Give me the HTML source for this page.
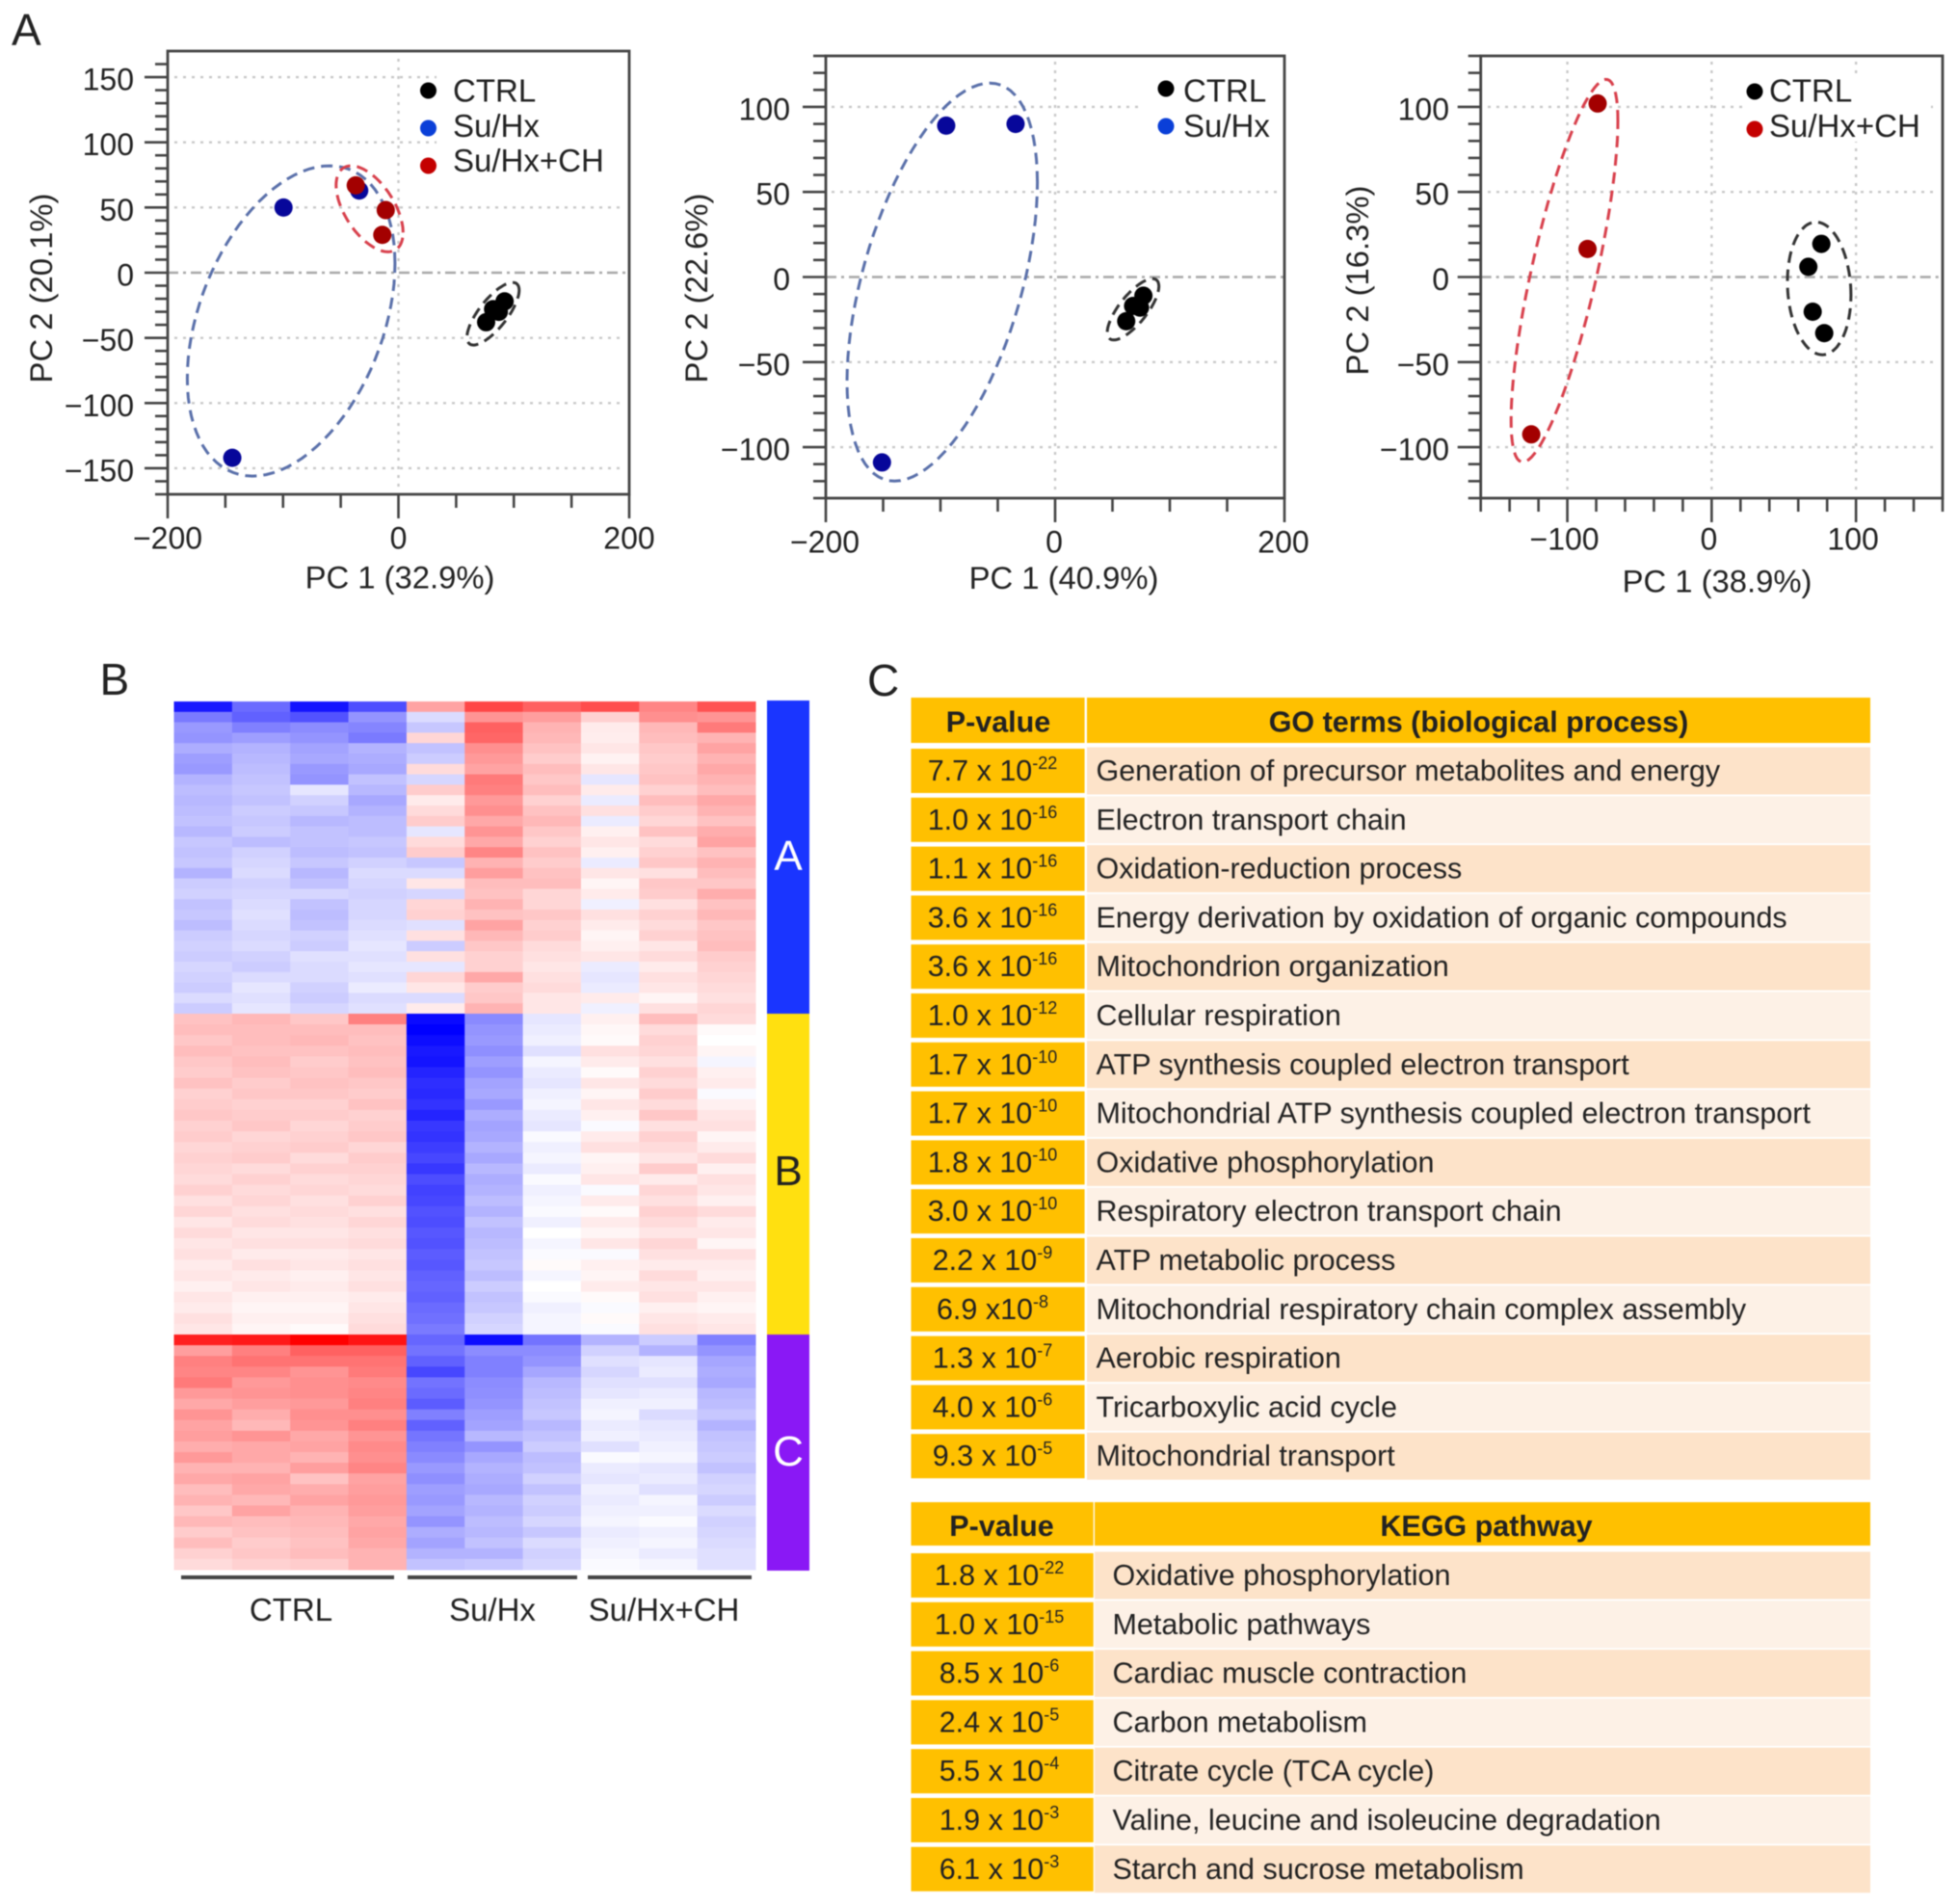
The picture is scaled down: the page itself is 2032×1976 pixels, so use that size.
<!DOCTYPE html>
<html lang="en">
<head>
<meta charset="utf-8">
<title>PCA, heatmap and enrichment tables</title>
<style>
html,body{margin:0;padding:0;background:#fff;}
svg{display:block;filter:blur(0.6px);}
text{font-family:"Liberation Sans",Arial,sans-serif;fill:#222;}
</style>
</head>
<body>
<svg id="fig" xmlns="http://www.w3.org/2000/svg" width="2032" height="1976" viewBox="0 0 2032 1976">
  <rect x="0" y="0" width="2032" height="1976" fill="#fff"/>
  <text x="12" y="47" font-size="46">A</text>
  <text x="103.5" y="721" font-size="46">B</text>
  <text x="900" y="722" font-size="46">C</text>
  <g id="pca1"></g>
  <g id="pca2"></g>
  <g id="pca3"></g>
  <g id="heat"></g>
  <rect x="796" y="727" width="44" height="325" fill="#1a35ff"/>
  <rect x="796" y="1052" width="44" height="333" fill="#ffe010"/>
  <rect x="796" y="1385" width="44" height="245" fill="#8a18f5"/>
  <text x="818" y="903" font-size="44" text-anchor="middle" style="fill:#fff">A</text>
  <text x="818" y="1230" font-size="44" text-anchor="middle" style="fill:#222">B</text>
  <text x="818" y="1521" font-size="44" text-anchor="middle" style="fill:#fff">C</text>
  <rect x="188" y="1635" width="221" height="4" fill="#444"/>
  <rect x="423" y="1635" width="176" height="4" fill="#444"/>
  <rect x="610" y="1635" width="170" height="4" fill="#444"/>
  <text x="302" y="1682" font-size="33" text-anchor="middle">CTRL</text>
  <text x="511" y="1682" font-size="33" text-anchor="middle">Su/Hx</text>
  <text x="689" y="1682" font-size="33" text-anchor="middle">Su/Hx+CH</text>
  <g id="goTable"></g>
  <g id="keggTable"></g>
</svg>
<script>
/* ---------- PCA data (data units) ---------- */
const pca1CtrlX = [76, 82, 87, 92];
const pca1CtrlY = [-38, -28, -30, -22];
const pca1SuhxX = [-99.6, -34, -144];
const pca1SuhxY = [50, 63, -142];
const pca1ChX = [-37, -11, -14];
const pca1ChY = [67, 48, 29];
const pca1EllipseCx = [82, -93, -25];
const pca1EllipseCy = [-31.5, -37, 49];
const pca1EllipseRx = [22.6, 90, 29];
const pca1EllipseRy = [24, 119, 33];
const pca1EllipseCorr = [0.75, 0.37, -0.55];
const pca1XTicks = [-200, 0, 200];
const pca1YTicks = [150, 100, 50, 0, -50, -100, -150];

const pca2CtrlX = [62, 68, 74, 77];
const pca2CtrlY = [-26, -17, -18, -11];
const pca2SuhxX = [-95, -34.5, -151];
const pca2SuhxY = [89, 90, -109];
const pca2EllipseCx = [68, -98.5];
const pca2EllipseCy = [-19, -3];
const pca2EllipseRx = [22.5, 83];
const pca2EllipseRy = [18, 117];
const pca2EllipseCorr = [0.75, 0.5];
const pca2XTicks = [-200, 0, 200];
const pca2YTicks = [100, 50, 0, -50, -100];

const pca3CtrlX = [76, 67, 70, 78];
const pca3CtrlY = [19.5, 6, -20.4, -33];
const pca3ChX = [-79, -86, -125];
const pca3ChY = [102, 16.5, -92.5];
const pca3EllipseCx = [74.5, -102];
const pca3EllipseCy = [-6.7, 3.7];
const pca3EllipseRx = [22, 37];
const pca3EllipseRy = [39, 112.5];
const pca3EllipseCorr = [-0.1, 0.78];
const pca3XTicks = [-100, 0, 100];
const pca3YTicks = [100, 50, 0, -50, -100];

/* ---------- Heatmap data: one row per gene band, ten samples, -100 blue .. 100 red ---------- */
const heatSamples = ["CTRL1", "CTRL2", "CTRL3", "CTRL4", "SuHx1", "SuHx2", "SuHx3", "CH1", "CH2", "CH3"];
const heatA = [
[-90,-58,-92,-70,36,72,62,70,48,68],
[-52,-62,-68,-42,-14,42,38,18,44,42],
[-40,-50,-45,-48,-22,62,30,8,28,52],
[-42,-38,-42,-52,16,60,28,7,26,30],
[-32,-30,-36,-30,-24,44,24,10,22,36],
[-38,-28,-34,-32,-20,40,20,5,20,30],
[-40,-26,-40,-34,14,36,26,10,22,34],
[-30,-24,-42,-24,-16,52,22,-10,24,30],
[-26,-22,-10,-28,20,50,26,8,18,26],
[-28,-24,-18,-34,8,40,18,-8,26,34],
[-26,-20,-22,-30,14,44,24,12,20,30],
[-24,-22,-28,-26,20,34,28,-8,16,24],
[-28,-20,-24,-26,-10,42,22,6,24,32],
[-22,-26,-24,-22,14,34,18,10,14,36],
[-24,-18,-26,-24,20,48,24,6,18,24],
[-22,-16,-22,-18,-22,30,20,-8,22,30],
[-30,-14,-28,-14,-14,38,24,10,12,26],
[-20,-18,-24,-16,10,26,26,4,22,22],
[-18,-16,-16,-18,-16,24,16,8,20,32],
[-24,-14,-24,-16,16,30,16,-6,12,24],
[-22,-12,-26,-16,18,24,22,12,18,28],
[-26,-14,-24,-14,-12,36,18,8,14,22],
[-20,-16,-18,-12,12,28,20,4,18,24],
[-18,-14,-20,-10,-20,22,14,6,10,26],
[-20,-18,-12,-12,12,18,12,10,14,20],
[-16,-20,-14,-10,-10,18,10,-8,8,18],
[-18,-14,-14,-12,16,34,12,-10,12,16],
[-20,-10,-18,-8,10,20,14,-8,10,14],
[-14,-12,-20,-14,-14,22,10,8,4,12],
[-20,-10,-16,-12,8,30,10,-6,12,16]
];
const heatB = [
[24,28,22,50,-96,-46,-10,6,26,14],
[26,26,26,26,-100,-42,-8,3,14,2],
[22,26,28,24,-95,-40,-6,2,18,0],
[26,24,24,26,-90,-44,-12,12,16,4],
[22,26,20,24,-92,-38,-4,8,12,-4],
[20,24,22,26,-86,-42,-8,2,18,6],
[24,20,24,22,-82,-36,-10,10,14,8],
[18,22,22,20,-84,-34,-6,4,20,-2],
[20,18,18,24,-80,-40,-4,10,14,6],
[22,20,20,18,-86,-32,-8,6,22,10],
[18,22,16,20,-78,-36,-10,-2,12,12],
[20,16,18,22,-80,-34,-2,8,18,4],
[16,18,20,16,-76,-30,-6,12,14,8],
[18,20,14,20,-72,-34,-4,4,10,14],
[16,14,18,18,-78,-28,-8,6,20,6],
[14,18,14,16,-70,-32,-2,10,8,12],
[18,14,16,14,-74,-30,-6,-2,16,10],
[12,16,12,18,-72,-26,-4,8,12,6],
[16,12,14,12,-68,-30,-2,2,18,14],
[10,14,12,16,-70,-24,-6,8,14,8],
[14,10,10,12,-66,-28,0,4,10,10],
[10,12,12,14,-68,-26,-4,10,16,4],
[12,8,8,10,-64,-24,-2,-2,12,12],
[8,12,10,12,-66,-22,2,6,8,8],
[10,8,6,10,-62,-26,-4,4,14,6],
[6,10,8,12,-60,-20,0,8,10,10],
[10,6,6,8,-62,-24,-2,2,12,6],
[8,4,4,10,-58,-22,-6,-2,6,4],
[12,6,6,12,-56,-18,-4,2,10,8],
[10,4,2,14,-52,-16,-4,-2,12,10]
];
const heatC = [
[88,90,100,92,-60,-95,-55,-30,-20,-50],
[38,50,62,62,-55,-45,-45,-18,-30,-42],
[50,55,55,55,-62,-50,-42,-12,-10,-35],
[48,48,42,52,-72,-50,-35,-16,-8,-32],
[52,40,44,46,-55,-45,-28,-12,-12,-34],
[40,42,44,48,-58,-44,-26,-10,-8,-28],
[34,38,40,50,-64,-42,-24,-6,-6,-26],
[42,32,44,44,-50,-38,-22,-4,-14,-22],
[36,28,42,50,-62,-36,-28,-8,-10,-30],
[38,42,34,42,-54,-28,-24,-6,-8,-24],
[32,34,36,46,-50,-42,-20,-12,-6,-22],
[40,34,30,44,-46,-34,-26,-2,-4,-20],
[30,30,38,48,-40,-30,-24,-8,-10,-24],
[34,36,24,36,-44,-32,-18,-10,-8,-18],
[26,34,32,38,-38,-34,-24,-6,-12,-16],
[30,28,36,40,-40,-28,-18,-8,-4,-20],
[22,36,30,38,-36,-30,-20,-6,-6,-14],
[28,26,28,34,-42,-26,-16,-4,-2,-18],
[20,24,26,36,-32,-28,-22,-8,-6,-16],
[26,20,24,34,-36,-24,-14,-6,-4,-14],
[18,22,26,30,-30,-30,-18,-4,-8,-12],
[14,18,20,30,-24,-22,-16,-2,-4,-12]
];

/* ---------- Table data ---------- */
const goMantissas = ["7.7 x 10","1.0 x 10","1.1 x 10","3.6 x 10","3.6 x 10","1.0 x 10","1.7 x 10","1.7 x 10","1.8 x 10","3.0 x 10","2.2 x 10","6.9 x10","1.3 x 10","4.0 x 10","9.3 x 10"];
const goExponents = ["-22","-16","-16","-16","-16","-12","-10","-10","-10","-10","-9","-8","-7","-6","-5"];
const goTerms = ["Generation of precursor metabolites and energy","Electron transport chain","Oxidation-reduction process","Energy derivation by oxidation of organic compounds","Mitochondrion organization","Cellular respiration","ATP synthesis coupled electron transport","Mitochondrial ATP synthesis coupled electron transport","Oxidative phosphorylation","Respiratory electron transport chain","ATP metabolic process","Mitochondrial respiratory chain complex assembly","Aerobic respiration","Tricarboxylic acid cycle","Mitochondrial transport"];
const keggMantissas = ["1.8 x 10","1.0 x 10","8.5 x 10","2.4 x 10","5.5 x 10","1.9 x 10","6.1 x 10"];
const keggExponents = ["-22","-15","-6","-5","-4","-3","-3"];
const keggTerms = ["Oxidative phosphorylation","Metabolic pathways","Cardiac muscle contraction","Carbon metabolism","Citrate cycle (TCA cycle)","Valine, leucine and isoleucine degradation","Starch and sucrose metabolism"];

/* ---------- Helpers ---------- */
const NS = "http://www.w3.org/2000/svg";
const COL = {ctrl:"#000000", suhx:"#07079a", ch:"#a30000", legSuhx:"#0a3fd8", legCh:"#c40000",
             ellCtrl:"#333333", ellSuhx:"#5a70aa", ellCh:"#d8404c", axis:"#444444"};

function svgEl(tag, parent, attrs, txt) {
  const el = document.createElementNS(NS, tag);
  for (const k in attrs) { el.setAttribute(k, attrs[k]); }
  if (txt !== undefined) { el.textContent = txt; }
  parent.appendChild(el);
  return el;
}
function fmt(v) { return v < 0 ? "\u2212" + Math.abs(v) : String(v); }

function drawTicks(g, cfg, sx, sy) {
  for (let v = cfg.xMin; v <= cfg.xMax; v += cfg.xMinorStep) {
    const major = cfg.xTicks.indexOf(v) >= 0;
    const t = svgEl("line", g, {x1:sx(v), x2:sx(v), y1:cfg.bottom, y2:cfg.bottom + (major ? 25 : 14), stroke:COL.axis, "stroke-width":2.6});
    
    
  }
  for (let v = cfg.yMin; v <= cfg.yTopTick; v += 10) {
    const major = v % 50 === 0;
    const t = svgEl("line", g, {x1:cfg.left - (major ? 24 : 13), x2:cfg.left, y1:sy(v), y2:sy(v), stroke:COL.axis, "stroke-width":2.6});
    
    
  }
  cfg.xTicks.forEach(function (v) {
    const l = svgEl("text", g, {x:sx(v) + cfg.xLabelDx, y:cfg.xLabelY, "font-size":32, "text-anchor":"middle"}, fmt(v));
    
    
  });
  cfg.yTicks.forEach(function (v) {
    const l = svgEl("text", g, {x:cfg.yLabelX, y:sy(v) + 13.5, "font-size":32, "text-anchor":"end"}, fmt(v));
    
    
  });
}

function drawGrid(g, cfg, sx, sy) {
  cfg.yTicks.forEach(function (v) {
    const zero = v === 0;
    const ln = svgEl("line", g, {x1: zero ? cfg.left : cfg.gridX1, x2: zero ? cfg.right : cfg.gridX2, y1:sy(v), y2:sy(v),
      stroke: zero ? "#a8a8a8" : "#c8c8c8", "stroke-width":2.4, "stroke-dasharray": zero ? "11 5 3 5" : "3 6"});
    
    
  });
  cfg.xTicks.forEach(function (v) {
    if (!cfg.vGrid.includes(v)) { return; }
    const ln = svgEl("line", g, {x1:sx(v), x2:sx(v), y1:cfg.gridY1, y2:cfg.gridY2, stroke:"#c8c8c8", "stroke-width":2.4, "stroke-dasharray":"3 6"});
    
    
  });
}

function drawEllipse(g, cx, cy, rx, ry, corr, color, sx, sy, name) {
  const phi = Math.acos(corr);
  let d = "";
  for (let a = 0; a < 360; a += 4) {
    const t = a * Math.PI / 180;
    const px = sx(cx + rx * Math.cos(t));
    const py = sy(cy + ry * Math.cos(t - phi));
    d += (a === 0 ? "M" : "L") + px.toFixed(1) + " " + py.toFixed(1);
  }
  const e = svgEl("path", g, {d:d + "Z", fill:"none", stroke:color, "stroke-width":3, "stroke-dasharray":"12 7"});
  
  
}

function drawPoints(g, xs, ys, color, sx, sy, name) {
  xs.forEach(function (x, i) {
    const c = svgEl("circle", g, {cx:sx(x), cy:sy(ys[i]), r:9.5, fill:color});
    
    
  });
}

function drawLegendEntry(g, dotX, textX, dotY, textY, color, label) {
  const c = svgEl("circle", g, {cx:dotX, cy:dotY, r:8.5, fill:color});
  
  
  const t = svgEl("text", g, {x:textX, y:textY, "font-size":33}, label);
  
  
}

function drawFrame(g, cfg) {
  const r = svgEl("rect", g, {x:cfg.left, y:cfg.top, width:cfg.right - cfg.left, height:cfg.bottom - cfg.top, fill:"none", stroke:COL.axis, "stroke-width":2.8});
  
  
  const xt = svgEl("text", g, {x:cfg.xTitleX, y:cfg.xTitleY, "font-size":32.8, "text-anchor":"middle"}, cfg.xTitle);
  
  
  const yt = svgEl("text", g, {x:0, y:0, "font-size":32.8, "text-anchor":"middle", transform:"translate(" + cfg.yTitleX + " " + cfg.yTitleY + ") rotate(-90)"}, cfg.yTitle);
  
  
}

function makeScales(cfg) {
  return {
    x: function (v) { return cfg.left + (v - cfg.xMin) / (cfg.xMax - cfg.xMin) * (cfg.right - cfg.left); },
    y: function (v) { return cfg.bottom - (v - cfg.yMin) / (cfg.yMax - cfg.yMin) * (cfg.bottom - cfg.top); }
  };
}

function maskLegend(g, m) {
  const r = svgEl("rect", g, {x:m[0], y:m[1], width:m[2], height:m[3], fill:"#fff"});
  
  
}

/* ---------- PCA plot 1 ---------- */
(function () {
  const g = document.getElementById("pca1");
  const cfg = {left:174, right:653, top:53, bottom:513, xMin:-200, xMax:200, yMin:-170, yMax:170, yTopTick:160, xMinorStep:50,
    xTicks:pca1XTicks, yTicks:pca1YTicks, vGrid:[0], xLabelY:569.5, xLabelDx:0, yLabelX:139,
    gridX1:181, gridX2:647, gridY1:61, gridY2:510,
    xTitle:"PC 1 (32.9%)", xTitleX:415, xTitleY:610.5, yTitle:"PC 2 (20.1%)", yTitleX:54, yTitleY:299};
  const s = makeScales(cfg);
  drawGrid(g, cfg, s.x, s.y);
  maskLegend(g, [453, 60, 198, 135]);
  drawEllipse(g, pca1EllipseCx[0], pca1EllipseCy[0], pca1EllipseRx[0], pca1EllipseRy[0], pca1EllipseCorr[0], COL.ellCtrl, s.x, s.y, 'ctrl-ellipse');
  drawEllipse(g, pca1EllipseCx[1], pca1EllipseCy[1], pca1EllipseRx[1], pca1EllipseRy[1], pca1EllipseCorr[1], COL.ellSuhx, s.x, s.y, 'suhx-ellipse');
  drawEllipse(g, pca1EllipseCx[2], pca1EllipseCy[2], pca1EllipseRx[2], pca1EllipseRy[2], pca1EllipseCorr[2], COL.ellCh, s.x, s.y, 'suhx-ch-ellipse');
  drawPoints(g, pca1CtrlX, pca1CtrlY, COL.ctrl, s.x, s.y, 'ctrl-point');
  drawPoints(g, pca1SuhxX, pca1SuhxY, COL.suhx, s.x, s.y, 'suhx-point');
  drawPoints(g, pca1ChX, pca1ChY, COL.ch, s.x, s.y, 'suhx-ch-point');
  drawFrame(g, cfg);
  drawTicks(g, cfg, s.x, s.y);
  drawLegendEntry(g, 444.5, 470, 94, 105.5, COL.ctrl, "CTRL");
  drawLegendEntry(g, 444.5, 470, 133, 142, COL.legSuhx, "Su/Hx");
  drawLegendEntry(g, 444.5, 470, 172, 178, COL.legCh, "Su/Hx+CH");
})();

/* ---------- PCA plot 2 ---------- */
(function () {
  const g = document.getElementById("pca2");
  const cfg = {left:857, right:1333, top:58, bottom:517, xMin:-200, xMax:200, yMin:-130, yMax:130, yTopTick:130, xMinorStep:50,
    xTicks:pca2XTicks, yTicks:pca2YTicks, vGrid:[0], xLabelY:573.5, xLabelDx:-1, yLabelX:820,
    gridX1:863, gridX2:1330, gridY1:64, gridY2:514,
    xTitle:"PC 1 (40.9%)", xTitleX:1104, xTitleY:611, yTitle:"PC 2 (22.6%)", yTitleX:734, yTitleY:299};
  const s = makeScales(cfg);
  drawGrid(g, cfg, s.x, s.y);
  maskLegend(g, [1187, 64, 140, 100]);
  drawEllipse(g, pca2EllipseCx[0], pca2EllipseCy[0], pca2EllipseRx[0], pca2EllipseRy[0], pca2EllipseCorr[0], COL.ellCtrl, s.x, s.y, 'ctrl-ellipse');
  drawEllipse(g, pca2EllipseCx[1], pca2EllipseCy[1], pca2EllipseRx[1], pca2EllipseRy[1], pca2EllipseCorr[1], COL.ellSuhx, s.x, s.y, 'suhx-ellipse');
  drawPoints(g, pca2CtrlX, pca2CtrlY, COL.ctrl, s.x, s.y, 'ctrl-point');
  drawPoints(g, pca2SuhxX, pca2SuhxY, COL.suhx, s.x, s.y, 'suhx-point');
  drawFrame(g, cfg);
  drawTicks(g, cfg, s.x, s.y);
  drawLegendEntry(g, 1210, 1228, 92, 105.5, COL.ctrl, "CTRL");
  drawLegendEntry(g, 1210, 1228, 131, 142, COL.legSuhx, "Su/Hx");
})();

/* ---------- PCA plot 3 ---------- */
(function () {
  const g = document.getElementById("pca3");
  const cfg = {left:1536.7, right:2016, top:58, bottom:517, xMin:-160, xMax:160, yMin:-130, yMax:130, yTopTick:130, xMinorStep:20,
    xTicks:pca3XTicks, yTicks:pca3YTicks, vGrid:[-100, 0, 100], xLabelY:570.5, xLabelDx:-3, yLabelX:1504,
    gridX1:1544, gridX2:2011, gridY1:64, gridY2:514,
    xTitle:"PC 1 (38.9%)", xTitleX:1782, xTitleY:614.5, yTitle:"PC 2 (16.3%)", yTitleX:1420, yTitleY:291};
  const s = makeScales(cfg);
  drawGrid(g, cfg, s.x, s.y);
  maskLegend(g, [1810, 80, 194, 67]);
  drawEllipse(g, pca3EllipseCx[0], pca3EllipseCy[0], pca3EllipseRx[0], pca3EllipseRy[0], pca3EllipseCorr[0], COL.ellCtrl, s.x, s.y, 'ctrl-ellipse');
  drawEllipse(g, pca3EllipseCx[1], pca3EllipseCy[1], pca3EllipseRx[1], pca3EllipseRy[1], pca3EllipseCorr[1], COL.ellCh, s.x, s.y, 'suhx-ch-ellipse');
  drawPoints(g, pca3CtrlX, pca3CtrlY, COL.ctrl, s.x, s.y, 'ctrl-point');
  drawPoints(g, pca3ChX, pca3ChY, COL.ch, s.x, s.y, 'suhx-ch-point');
  drawFrame(g, cfg);
  drawTicks(g, cfg, s.x, s.y);
  drawLegendEntry(g, 1821, 1836, 95, 105.5, COL.ctrl, "CTRL");
  drawLegendEntry(g, 1821, 1836, 134, 142, COL.legCh, "Su/Hx+CH");
})();

/* ---------- Heatmap ---------- */
function heatColor(v) {
  const c = Math.max(-100, Math.min(100, v)) / 100;
  const k = Math.round(255 * (1 - Math.abs(c)));
  return c < 0 ? "rgb(" + k + "," + k + ",255)" : "rgb(255," + k + "," + k + ")";
}
function drawHeatBlock(g, rows, yTop, yBottom, xLeft, xRight, name) {
  const rowH = (yBottom - yTop) / rows.length;
  const colW = (xRight - xLeft) / heatSamples.length;
  rows.forEach(function (row, r) {
    row.forEach(function (v, c) {
      const cell = svgEl("rect", g, {x:xLeft + c * colW, y:yTop + r * rowH, width:colW + 0.5, height:rowH + 0.5, fill:heatColor(v)});
      
      
    });
  });
}
(function () {
  const g = document.getElementById("heat");
  drawHeatBlock(g, heatA, 728, 1052, 180.5, 784, 'heatmap-cell-cluster-a');
  drawHeatBlock(g, heatB, 1052, 1385, 180.5, 784, 'heatmap-cell-cluster-b');
  drawHeatBlock(g, heatC, 1385, 1629, 180.5, 784, 'heatmap-cell-cluster-c');
})();

/* ---------- Tables ---------- */
function drawTable(g, mantissas, exponents, terms, t) {
  const hp = svgEl("rect", g, {x:945.5, y:t.headTop, width:t.pRight - 945.5, height:t.headH, fill:"#ffc000"});
  
  
  const ht = svgEl("rect", g, {x:t.termLeft, y:t.headTop, width:1941 - t.termLeft, height:t.headH, fill:"#ffc000"});
  
  
  const hl = svgEl("text", g, {x:t.pHeadX, y:t.headBase, "font-size":30.5, "font-weight":"bold", "text-anchor":"middle"}, "P-value");
  
  
  const hr = svgEl("text", g, {x:t.termHeadX, y:t.headBase, "font-size":30.5, "font-weight":"bold", "text-anchor":"middle"}, t.title);
  
  
  terms.forEach(function (term, i) {
    const y = t.rowTop + i * 50.8;
    const pc = svgEl("rect", g, {x:945.5, y:y, width:t.pRight - 945.5, height:46, fill:"#ffc000"});
    
    
    const tc = svgEl("rect", g, {x:t.termLeft, y:y - 1.5, width:1941 - t.termLeft, height:49, fill: i % 2 === 0 ? "#fde3c9" : "#fdf1e6"});
    
    
    const pv = svgEl("text", g, {x:t.pTextX, y:y + 33, "font-size":30.5, "text-anchor":"middle"});
    
    
    svgEl("tspan", pv, {}, mantissas[i]);
    svgEl("tspan", pv, {dy:-12, "font-size":18}, exponents[i]);
    const tt = svgEl("text", g, {x:t.termTextX, y:y + 33, "font-size":30.5}, term);
    
    
  });
}
drawTable(document.getElementById("goTable"), goMantissas, goExponents, goTerms,
  {title:"GO terms (biological process)", headTop:724, headH:47, headBase:759.5, rowTop:777, pRight:1125.6, termLeft:1128, pHeadX:1036, termHeadX:1534.5, pTextX:1030, termTextX:1137.5});
drawTable(document.getElementById("keggTable"), keggMantissas, keggExponents, keggTerms,
  {title:"KEGG pathway", headTop:1559, headH:45, headBase:1594, rowTop:1612, pRight:1134.7, termLeft:1136, pHeadX:1039.5, termHeadX:1542.5, pTextX:1037, termTextX:1154.5});
</script>
</body>
</html>
